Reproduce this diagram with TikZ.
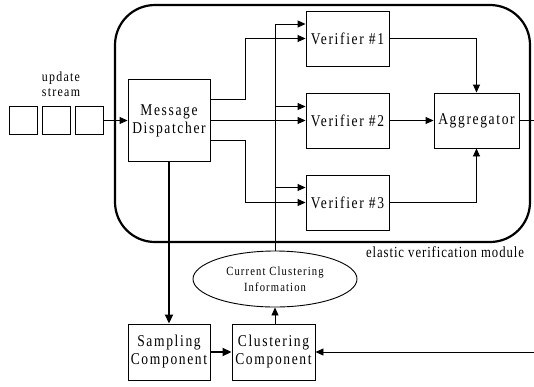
\documentclass[tikz,border=0pt]{standalone}
\usepackage{fontspec}
\setmainfont{Liberation Serif}
\newfontfamily\boxfont[FakeStretch=0.82,LetterSpace=10]{Liberation Serif}
\newfontfamily\ellfont[FakeStretch=0.85,LetterSpace=9]{Liberation Serif}
\newfontfamily\capfont[FakeStretch=0.82,LetterSpace=6]{Liberation Serif}
\newfontfamily\strfont[FakeStretch=0.85,LetterSpace=9]{Liberation Serif}
\usetikzlibrary{arrows.meta,shapes.geometric,calc}
\begin{document}
\begin{tikzpicture}[x=1pt,y=-1pt,
  box/.style={draw,line width=0.9pt,inner sep=0pt,align=center,font=\boxfont\fontsize{16.5}{18}\selectfont},
  sq/.style={draw,line width=0.9pt,minimum width=28pt,minimum height=28pt,inner sep=0pt},
  arr/.style={-{Triangle[length=8pt,width=7pt]},line width=0.9pt},
  thickarr/.style={-{Triangle[length=9pt,width=8pt]},line width=1.8pt},
  ln/.style={line width=0.9pt},
  lbl/.style={align=center,inner sep=0pt}
]
\useasboundingbox (0,0) rectangle (534,386);
% big module
\draw[line width=2.2pt,rounded corners=40pt] (115,5) rectangle (530,242);
\node[lbl,font=\capfont\fontsize{15.5}{18}\selectfont] (modlbl) at (445,252) {elastic verification module};
% stream
\node[sq] (s1) at (23,120.5) {};
\node[sq] (s2) at (56,120.5) {};
\node[sq] (s3) at (89,120.5) {};
\node[lbl,font=\strfont\fontsize{14}{15.5}\selectfont] (ustream) at (61,84) {update\\stream};
% boxes
\node[box,minimum width=82pt,minimum height=82pt] (disp) at (169,120.5) {Message\\Dispatcher};
\node[box,minimum width=83pt,minimum height=55pt] (v1) at (347.5,38.5) {Verifier \#1};
\node[box,minimum width=83pt,minimum height=55pt] (v2) at (347.5,120.5) {Verifier \#2};
\node[box,minimum width=83pt,minimum height=55pt] (v3) at (347.5,202.5) {Verifier \#3};
\node[box,minimum width=85pt,minimum height=55pt] (agg) at (476.5,120.5) {Aggregator};
\node[box,minimum width=82pt,minimum height=56pt] (samp) at (169,352) {Sampling\\Component};
\node[box,minimum width=83pt,minimum height=56pt] (clus) at (273.5,352) {Clustering\\Component};
\node[ellipse,draw,line width=0.9pt,minimum width=164pt,minimum height=56pt,inner sep=0pt,align=center,
  font=\ellfont\fontsize{12.5}{15.5}\selectfont] (ell) at (275,279) {Current Clustering\\Information};
% coordinates
\coordinate (out1) at (534,120.5);
\coordinate (in1) at (534,352);
\coordinate (v1in) at ([yshift=14.5pt]v1.west);
\coordinate (v2in) at ([yshift=14pt]v2.west);
\coordinate (v3in) at ([yshift=15pt]v3.west);
% connectors
\draw[arr] (s3.east) -- (disp.west);
\draw[arr] ([yshift=21pt]disp.east) -- ++(35pt,0) |- (v1.west);
\draw[arr] (disp.east) -- (v2.west);
\draw[arr] ([yshift=-20pt]disp.east) -- ++(35pt,0) |- (v3.west);
\draw[arr] (v1.east) -| (agg.north);
\draw[arr] (v2.east) -- (agg.west);
\draw[arr] (v3.east) -| (agg.south);
\draw[ln] (agg.east) -- (out1);
\draw[arr] (in1) -- (clus.east);
\draw[thickarr] (disp.south) -- (samp.north);
\draw[thickarr] (samp.east) -- (clus.west);
\draw[arr] (clus.north -| ell.south) -- (ell.south);
\draw[arr] (ell.north) |- (v1in);
\draw[arr] (ell.north |- v2in) -- (v2in);
\draw[arr] (ell.north |- v3in) -- (v3in);
\end{tikzpicture}
\end{document}
